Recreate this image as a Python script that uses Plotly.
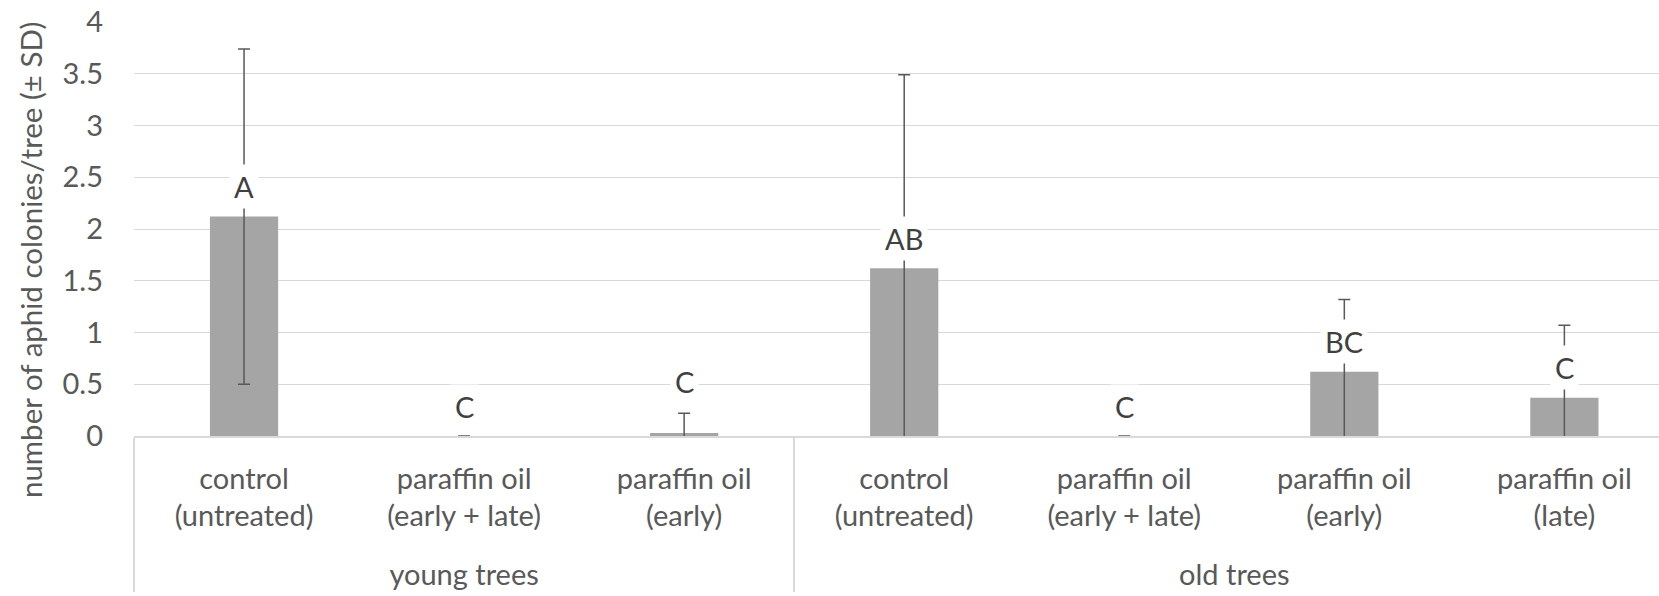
import plotly.graph_objects as go

# ---- data ----
groups = ["young trees", "young trees", "young trees",
          "old trees", "old trees", "old trees", "old trees"]
treatments = ["control<br>(untreated)", "paraffin oil<br>(early + late)", "paraffin oil<br>(early)",
              "control<br>(untreated)", "paraffin oil<br>(early + late)", "paraffin oil<br>(early)",
              "paraffin oil<br>(late)"]
means = [2.12, 0.0, 0.03, 1.62, 0.0, 0.62, 0.37]
sds = [1.62, 0.0, 0.19, 1.87, 0.0, 0.70, 0.70]
letters = ["A", "C", "C", "AB", "C", "BC", "C"]
y_ticks = [0, 0.5, 1, 1.5, 2, 2.5, 3, 3.5, 4]
y_tick_text = ["0", "0.5", "1", "1.5", "2", "2.5", "3", "3.5", "4"]
y_title = "number of aphid colonies/tree (± SD)"

# ---- style ----
FONT = "Lato"
FS = 29
AXIS_COLOR = "#595959"
GRID = "#d9d9d9"
label_shift = [30, 30, 51, 30, 30, 30, 30]

# group labels drawn one line lower (extra spacing below the two-line category labels)
group_axis_labels = ["<br>" + g for g in groups]

fig = go.Figure()
fig.add_trace(go.Bar(
    x=[group_axis_labels, treatments],
    y=means,
    marker=dict(color="#a5a5a5", line=dict(width=0)),
    width=0.31,
    error_y=dict(type="data", array=sds, visible=True, color="#595959", thickness=1.5, width=6),
    showlegend=False,
))

annotations = []
for i, (m, lab) in enumerate(zip(means, letters)):
    annotations.append(dict(
        x=i, y=m, xref="x", yref="y", text=lab, showarrow=False,
        yshift=label_shift[i], bgcolor="white",
        font=dict(family=FONT, size=FS, color="#404040"),
        xanchor="center", yanchor="middle", borderpad=4,
    ))
annotations.append(dict(
    x=0, y=0.425, xref="paper", yref="paper", xshift=-104,
    text=y_title, textangle=-90, showarrow=False,
    font=dict(family=FONT, size=29.5, color=AXIS_COLOR), xanchor="center", yanchor="middle",
))

fig.update_layout(
    width=1659, height=596,
    margin=dict(l=134, r=0, t=22, b=160, autoexpand=False),
    plot_bgcolor="white", paper_bgcolor="white",
    font=dict(family=FONT, size=FS, color=AXIS_COLOR),
    annotations=annotations,
    xaxis=dict(
        type="multicategory", range=[-0.5, 6.43], automargin=False,
        showline=True, linecolor=GRID, linewidth=1.5,
        showdividers=True, dividercolor=GRID, dividerwidth=1.5,
        tickfont=dict(family=FONT, size=FS, color=AXIS_COLOR),
        ticklabelstandoff=16,
        showgrid=False,
    ),
    yaxis=dict(
        range=[0, 4], tickvals=y_ticks, ticktext=y_tick_text, automargin=False,
        showgrid=True, gridcolor=GRID, gridwidth=1.2, zeroline=False, showline=False,
        tickfont=dict(family=FONT, size=FS, color=AXIS_COLOR),
        ticklabelstandoff=30, ticklabeloverflow="allow",
    ),
)

fig.write_html("out.html", config={"displayModeBar": False},
               post_script="document.body.style.margin='0';")
